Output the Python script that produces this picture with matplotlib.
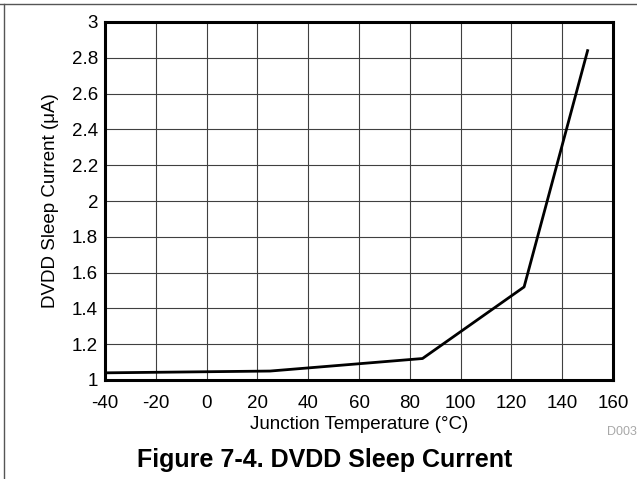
import matplotlib.pyplot as plt
from matplotlib.lines import Line2D

plt.rcParams['font.family'] = ['Liberation Sans', 'DejaVu Sans']

# Data
temperature = [-40, 25, 85, 125, 150]
sleep_current = [1.04, 1.05, 1.12, 1.52, 2.84]
x_ticks = [-40, -20, 0, 20, 40, 60, 80, 100, 120, 140, 160]
y_ticks = [1, 1.2, 1.4, 1.6, 1.8, 2, 2.2, 2.4, 2.6, 2.8, 3]
y_tick_labels = ['1', '1.2', '1.4', '1.6', '1.8', '2', '2.2', '2.4', '2.6', '2.8', '3']

fig = plt.figure(figsize=(6.37, 4.79), dpi=100)
ax = fig.add_axes([105 / 637, 1 - 380 / 479, 508 / 637, 358 / 479])

ax.plot(temperature, sleep_current, color='black', linewidth=2, zorder=3)

ax.set_xlim(-40, 160)
ax.set_ylim(1, 3)
ax.set_xticks(x_ticks)
ax.set_xticklabels([str(t) for t in x_ticks])
ax.set_yticks(y_ticks)
ax.set_yticklabels(y_tick_labels)
ax.tick_params(length=0, labelsize=13.5)
ax.tick_params(axis='x', pad=11)
ax.tick_params(axis='y', pad=5)
ax.grid(True, color='#404040', linewidth=0.8)
for s in ax.spines.values():
    s.set_linewidth(2.2)

ax.set_xlabel('Junction Temperature (°C)', fontsize=13.5, labelpad=3)
ax.set_ylabel('DVDD Sleep Current (μA)', fontsize=13.5, labelpad=9)

# frame lines and captions
fig.add_artist(Line2D([0, 1], [1 - 4 / 479, 1 - 4 / 479], color='#555555', linewidth=1))
fig.add_artist(Line2D([4 / 637, 4 / 637], [0, 1 - 4 / 479], color='#555555', linewidth=1))
fig.text(607 / 637, 1 - 432 / 479, 'D003', fontsize=9, color='#a8a8a8', va='center')
fig.text(325 / 637, 1 - 460 / 479, 'Figure 7-4. DVDD Sleep Current', fontsize=18,
         fontweight='bold', ha='center', va='center')

fig.savefig('out.png', dpi=100)
